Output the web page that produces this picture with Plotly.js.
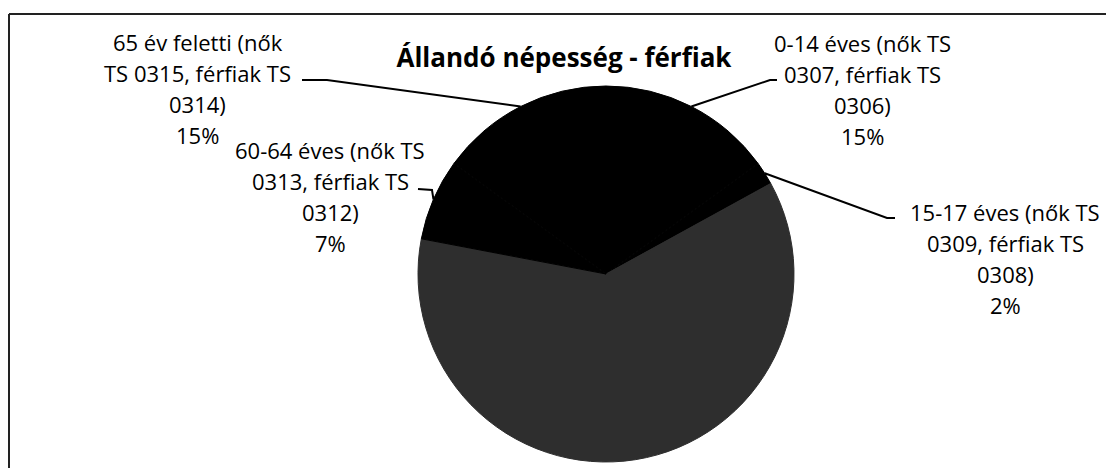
<!DOCTYPE html>
<html>
<head>
<meta charset="utf-8">
<script src="https://cdn.plot.ly/plotly-3.0.1.min.js"></script>
<style>html,body{margin:0;padding:0;background:#fff;}#chart{width:1106px;height:468px;}</style>
</head>
<body>
<div id="chart"></div>
<script>
// ---- data ----
const categories = [
  '0-14 éves (nők TS 0307, férfiak TS 0306)',
  '15-17 éves (nők TS 0309, férfiak TS 0308)',
  '18-59 éves (nők TS 0311, férfiak TS 0310)',
  '60-64 éves (nők TS 0313, férfiak TS 0312)',
  '65 év feletti (nők TS 0315, férfiak TS 0314)'
];
const values = [15, 2, 61, 7, 15];
const labelLines = [
  ['0-14 éves (nők TS', '0307, férfiak TS', '0306)'],
  ['15-17 éves (nők TS', '0309, férfiak TS', '0308)'],
  null,
  ['60-64 éves (nők TS', '0313, férfiak TS', '0312)'],
  ['65 év feletti (nők', 'TS 0315, férfiak TS', '0314)']
];
const chartTitle = 'Állandó népesség - férfiak';

// ---- layout config (pixels) ----
const W = 1106, H = 468;
const PIE = {cx: 606, cy: 274, r: 188};
const labelPos = [ // block centre x, first line centre y
  [862, 43], [1005, 212], null, [330, 150], [198, 42]
];
const elbows = [
  [[770, 80], [777, 80]],
  [[887, 218], [895, 218]],
  null,
  [[432, 190], [418, 189]],
  [[327, 80], [302, 80]]
];
const LINE_GAP = 31;
const FONT = 'Open Sans, sans-serif';
const colors = ['#000000', '#000000', '#2e2e2e', '#000000', '#000000'];

const px = x => x / W, py = y => 1 - y / H;

const total = values.reduce((a, b) => a + b, 0);
let cum = 0;
const annotations = [], shapes = [];
values.forEach((v, i) => {
  const mid = (cum + v / 2) / total * 2 * Math.PI;
  cum += v;
  if (!labelLines[i]) return;
  const ex = PIE.cx + PIE.r * Math.sin(mid), ey = PIE.cy - PIE.r * Math.cos(mid);
  const pts = [[ex, ey]].concat(elbows[i]);
  let path = 'M ' + pts.map(p => px(p[0]) + ',' + py(p[1])).join(' L ');
  shapes.push({type: 'path', xref: 'paper', yref: 'paper', path: path,
    line: {color: '#000', width: 2}});
  const lines = labelLines[i].concat([Math.round(v / total * 100) + '%']);
  lines.forEach((t, k) => {
    annotations.push({xref: 'paper', yref: 'paper', x: px(labelPos[i][0]),
      y: py(labelPos[i][1] + k * LINE_GAP), xanchor: 'center', yanchor: 'middle',
      text: t, showarrow: false, font: {family: FONT, size: 22, weight: 400, color: '#000'}});
  });
});

// frame
shapes.push({type: 'line', xref: 'paper', yref: 'paper', x0: px(9), x1: 1, y0: py(14), y1: py(14), line: {color: '#222', width: 2}});
shapes.push({type: 'line', xref: 'paper', yref: 'paper', x0: px(9), x1: px(9), y0: py(14), y1: 0, line: {color: '#222', width: 2}});

const trace = {
  type: 'pie', labels: categories, values: values, sort: false,
  direction: 'clockwise', rotation: 0, textinfo: 'none', hoverinfo: 'label+percent',
  marker: {colors: colors, line: {color: colors, width: 1}},
  domain: {x: [px(PIE.cx - PIE.r), px(PIE.cx + PIE.r)], y: [py(PIE.cy + PIE.r), py(PIE.cy - PIE.r)]},
  showlegend: false
};

const layout = {
  width: W, height: H, margin: {l: 0, r: 0, t: 0, b: 0},
  paper_bgcolor: '#fff', plot_bgcolor: '#fff', showlegend: false,
  title: {text: '<b>' + chartTitle + '</b>', x: px(564), y: py(58), xref: 'paper', yref: 'paper',
    xanchor: 'center', yanchor: 'middle', font: {family: FONT, size: 26, color: '#000'}},
  annotations: annotations, shapes: shapes
};

Plotly.newPlot('chart', [trace], layout, {displayModeBar: false, staticPlot: true});
</script>
</body>
</html>
